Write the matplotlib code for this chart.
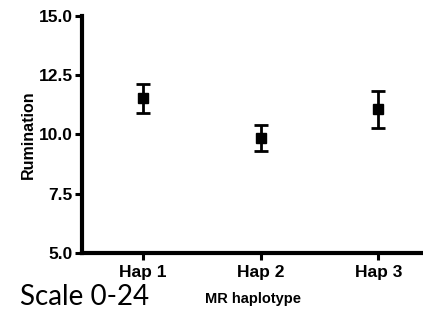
import matplotlib
matplotlib.use("Agg")
import matplotlib.pyplot as plt

haps = ["Hap 1", "Hap 2", "Hap 3"]
means = [11.53, 9.85, 11.06]
upper = [12.12, 10.38, 11.82]
lower = [10.92, 9.32, 10.28]

plt.rcParams['font.family'] = ['Liberation Sans', 'DejaVu Sans']
plt.rcParams['font.weight'] = 'bold'

fig = plt.figure(figsize=(4.23, 3.13), dpi=100)
ax = fig.add_axes([82/423, 60/313, 1 - 82/423, 237/313])

x = [1, 2, 3]
yerr = [[m - l for m, l in zip(means, lower)], [u - m for u, m in zip(upper, means)]]
ax.errorbar(x, means, yerr=yerr, fmt='s', color='black', ms=7.5, elinewidth=2,
            capsize=5, capthick=2)

ax.set_xlim(0.48, 3.38)
ax.set_ylim(5, 15)
ax.set_yticks([5, 7.5, 10, 12.5, 15])
ax.set_yticklabels(["5.0", "7.5", "10.0", "12.5", "15.0"])
ax.set_xticks(x)
ax.set_xticklabels(haps)
for s in ['top', 'right']:
    ax.spines[s].set_visible(False)
for s in ['left', 'bottom']:
    ax.spines[s].set_linewidth(3)
ax.tick_params(width=2.2, length=5, labelsize=12.5, pad=1.5)
ax.tick_params(axis='x', pad=4)
for lab in ax.get_xticklabels() + ax.get_yticklabels():
    lab.set_fontweight('bold')

ax.set_ylabel("Rumination", fontsize=11.5, fontweight='bold', labelpad=2)
ax.set_xlabel("MR haplotype", fontsize=10.5, fontweight='bold', labelpad=8)

fig.text(20/423, 1 - 297/313, "Scale 0-24", fontsize=20, fontweight='normal',
         family='Lato', va='center', ha='left')

fig.savefig("out.png", dpi=100)
